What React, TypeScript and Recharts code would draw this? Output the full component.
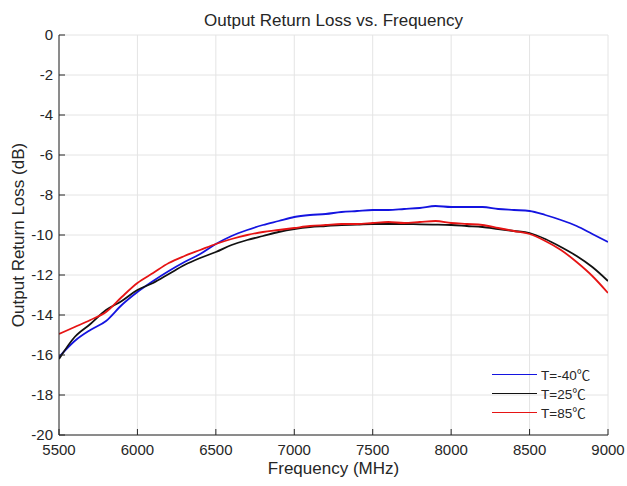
import React from "react";
import { LineChart, Line, XAxis, YAxis, CartesianGrid, Legend } from "recharts";

// frequency points (MHz)
const freq = [
  5500, 5600, 5700, 5800, 5900, 6000, 6100, 6200, 6300, 6400, 6500, 6600,
  6700, 6800, 6900, 7000, 7100, 7200, 7300, 7400, 7500, 7600, 7700, 7800,
  7900, 8000, 8100, 8200, 8300, 8400, 8500, 8600, 8700, 8800, 8900, 9000,
];

// output return loss (dB)
const rlMinus40 = [
  -16.1, -15.3, -14.75, -14.3, -13.5, -12.85, -12.3, -11.8, -11.35, -10.95, -10.45, -10.05,
  -9.75, -9.5, -9.3, -9.1, -9.0, -8.95, -8.85, -8.8, -8.75, -8.75, -8.7, -8.65,
  -8.55, -8.6, -8.6, -8.6, -8.7, -8.75, -8.8, -9.0, -9.25, -9.55, -9.95, -10.35,
];
const rl25 = [
  -16.2, -15.1, -14.45, -13.75, -13.3, -12.75, -12.4, -11.95, -11.5, -11.15, -10.85, -10.5,
  -10.25, -10.05, -9.85, -9.7, -9.6, -9.55, -9.5, -9.48, -9.45, -9.45, -9.45, -9.47,
  -9.48, -9.5, -9.55, -9.6, -9.7, -9.8, -9.9, -10.2, -10.6, -11.05, -11.6, -12.3,
];
const rl85 = [
  -14.95, -14.6, -14.25, -13.85, -13.1, -12.4, -11.9, -11.4, -11.05, -10.75, -10.45, -10.2,
  -10.0, -9.85, -9.75, -9.65, -9.55, -9.5, -9.45, -9.45, -9.4, -9.35, -9.4, -9.35,
  -9.3, -9.4, -9.45, -9.5, -9.65, -9.8, -9.95, -10.3, -10.75, -11.35, -12.05, -12.9,
];

const xTicks = [5500, 6000, 6500, 7000, 7500, 8000, 8500, 9000];
const yTicks = [0, -2, -4, -6, -8, -10, -12, -14, -16, -18, -20];

const data = freq.map((f, i) => ({ f, a: rlMinus40[i], b: rl25[i], c: rl85[i] }));

const AX = "#262626";
const FONT = "'Liberation Sans', Arial, 'Noto Sans CJK SC', sans-serif";
const TL = 6; // inward tick length
const YM = 6;
const XM = 9;

const LeftTick = (p: any) => (
  <g>
    <line x1={p.x + YM} x2={p.x + YM + TL} y1={p.y} y2={p.y} stroke={AX} />
    <text x={p.x} y={p.y} dy="0.36em" textAnchor="end" fontSize={15} fill={AX} fontFamily={FONT}>
      {p.payload.value}
    </text>
  </g>
);

const BottomTick = (p: any) => (
  <g>
    <line x1={p.x} x2={p.x} y1={p.y - XM} y2={p.y - XM - TL} stroke={AX} />
    <text x={p.x} y={p.y} dy="0.71em" textAnchor="middle" fontSize={15} fill={AX} fontFamily={FONT}>
      {p.payload.value}
    </text>
  </g>
);

const TopTick = (p: any) => <line x1={p.x} x2={p.x} y1={p.y} y2={p.y + TL} stroke={AX} />;
const RightTick = (p: any) => <line x1={p.x} x2={p.x - TL} y1={p.y} y2={p.y} stroke={AX} />;

const YLabel = (p: any) => {
  const vb = p.viewBox;
  const cx = vb.x + 18;
  const cy = vb.y + vb.height / 2;
  return (
    <text
      x={cx}
      y={cy}
      transform={`rotate(-90, ${cx}, ${cy})`}
      textAnchor="middle"
      dominantBaseline="central"
      fontSize={17}
      fill={AX}
      fontFamily={FONT}
    >
      Output Return Loss (dB)
    </text>
  );
};

const XLabel = (p: any) => {
  const vb = p.viewBox;
  return (
    <text x={vb.x + vb.width / 2} y={vb.y + 39} textAnchor="middle" fontSize={17} fill={AX} fontFamily={FONT}>
      Frequency (MHz)
    </text>
  );
};

const LegendBox = (p: any) => (
  <div style={{ fontFamily: FONT, fontSize: 13.5, color: AX }}>
    {(p.payload || []).map((e: any) => (
      <div key={e.value} style={{ display: "flex", alignItems: "center", height: 19 }}>
        <span
          style={{ display: "inline-block", width: 45, height: 0, borderTop: `1.8px solid ${e.color}`, marginRight: 4 }}
        />
        <span>{e.value}</span>
      </div>
    ))}
  </div>
);

export default function App() {
  return (
    <div style={{ position: "absolute", left: 0, top: 0, width: 627, height: 486, background: "#fff" }}>
      <div
        style={{
          position: "absolute",
          left: 59,
          width: 549,
          top: 12,
          textAlign: "center",
          fontFamily: FONT,
          fontSize: 17,
          lineHeight: "17px",
          color: AX,
        }}
      >
        Output Return Loss vs. Frequency
      </div>
      <LineChart width={627} height={486} data={data} margin={{ top: 35, right: 19, left: 0, bottom: 0 }}>
        <CartesianGrid stroke="#e4e4e4" vertical horizontal />
        <XAxis
          dataKey="f"
          type="number"
          domain={[5500, 9000]}
          ticks={xTicks}
          interval={0}
          height={51}
          tickSize={0}
          tickMargin={XM}
          tick={BottomTick}
          axisLine={{ stroke: AX }}
          allowDataOverflow
          label={XLabel}
        />
        <XAxis
          xAxisId="top"
          orientation="top"
          dataKey="f"
          type="number"
          domain={[5500, 9000]}
          ticks={xTicks}
          interval={0}
          height={0}
          tickSize={0}
          tickMargin={0}
          tick={TopTick}
          axisLine={{ stroke: AX }}
          allowDataOverflow
        />
        <YAxis
          type="number"
          domain={[-20, 0]}
          ticks={yTicks}
          interval={0}
          width={59}
          tickSize={0}
          tickMargin={YM}
          tick={LeftTick}
          axisLine={{ stroke: AX }}
          allowDataOverflow
          label={YLabel}
        />
        <YAxis
          yAxisId="right"
          orientation="right"
          type="number"
          domain={[-20, 0]}
          ticks={yTicks}
          interval={0}
          width={0}
          tickSize={0}
          tickMargin={0}
          tick={RightTick}
          axisLine={{ stroke: AX }}
          allowDataOverflow
        />
        <Line type="monotone" dataKey="a" name="T=-40℃" stroke="#1414e0" strokeWidth={1.8} dot={false} isAnimationActive={false} />
        <Line type="monotone" dataKey="b" name="T=25℃" stroke="#111111" strokeWidth={1.8} dot={false} isAnimationActive={false} />
        <Line type="monotone" dataKey="c" name="T=85℃" stroke="#e61414" strokeWidth={1.8} dot={false} isAnimationActive={false} />
        <Legend
          layout="vertical"
          align="center"
          verticalAlign="middle"
          content={LegendBox}
          wrapperStyle={{ left: 492, top: 364.5, width: "auto", height: "auto" }}
        />
      </LineChart>
    </div>
  );
}
